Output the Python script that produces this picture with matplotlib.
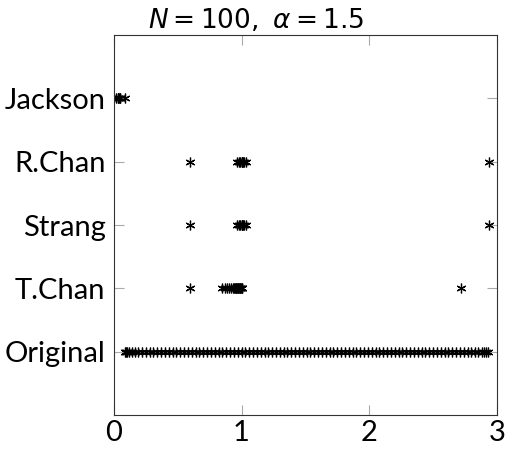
import matplotlib
matplotlib.use("Agg")
import matplotlib.pyplot as plt

categories = ["Original", "T.Chan", "Strang", "R.Chan", "Jackson"]

original = [0.09, 0.095, 0.105, 0.12, 0.14, 0.165, 0.19, 0.22, 0.25,
            0.28, 0.31, 0.34, 0.37, 0.40, 0.43, 0.46, 0.49, 0.52, 0.55,
            0.58, 0.61, 0.64, 0.67, 0.70, 0.73, 0.76, 0.79, 0.82, 0.85,
            0.88, 0.91, 0.94, 0.97, 1.00, 1.03, 1.06, 1.09, 1.12, 1.15,
            1.18, 1.21, 1.24, 1.27, 1.30, 1.33, 1.36, 1.39, 1.42, 1.45,
            1.48, 1.51, 1.54, 1.57, 1.60, 1.63, 1.66, 1.69, 1.72, 1.75,
            1.78, 1.81, 1.84, 1.87, 1.90, 1.93, 1.96, 1.99, 2.02, 2.05,
            2.08, 2.11, 2.14, 2.17, 2.20, 2.23, 2.26, 2.29, 2.32, 2.35,
            2.38, 2.41, 2.44, 2.47, 2.50, 2.53, 2.56, 2.59, 2.62, 2.65,
            2.68, 2.71, 2.74, 2.77, 2.80, 2.83, 2.855, 2.88, 2.90, 2.915, 2.93]
tchan = [0.60, 0.85, 0.87, 0.89, 0.905, 0.92, 0.93, 0.94, 0.95, 0.955,
         0.96, 0.965, 0.97, 0.975, 0.98, 0.985, 0.99, 0.995, 1.00, 1.00, 2.72]
strang = [0.60, 0.965, 0.98, 0.99, 1.00, 1.00, 1.005, 1.01, 1.02, 1.035, 2.935]
rchan = [0.60, 0.965, 0.98, 0.99, 1.00, 1.00, 1.005, 1.01, 1.02, 1.035, 2.935]
jackson = [0.02, 0.03, 0.035, 0.04, 0.045, 0.05, 0.09]
series = [original, tchan, strang, rchan, jackson]

title = r"$N = 100,\ \alpha = 1.5$"
xticks = [0, 1, 2, 3]

plt.rcParams["mathtext.fontset"] = "dejavusans"
plt.rcParams["font.family"] = ["Lato", "DejaVu Sans"]

fig = plt.figure(figsize=(5.06, 4.5), dpi=100)
ax = fig.add_axes([0.225, 0.078, 0.757, 0.844])

for i, vals in enumerate(series):
    ax.plot(vals, [i + 1] * len(vals), linestyle="none", marker=(6, 2, 0),
            markersize=7, markeredgewidth=0.9, color="black",
            markerfacecolor="none", markeredgecolor="black")

ax.set_xlim(0, 3)
ax.set_ylim(0, 6)
ax.set_xticks(xticks)
ax.set_xticklabels([str(t) for t in xticks])
ax.set_yticks(range(1, len(categories) + 1))
ax.set_yticklabels(categories)
ax.tick_params(axis="both", direction="in", length=7, width=0.8, color="#aaaaaa",
               labelsize=21, top=True, right=True, pad=6)
ax.tick_params(axis="x", pad=4)
for s in ax.spines.values():
    s.set_linewidth(0.8)
    s.set_color("#333333")
fig.text(0.505, 0.938, title, fontsize=19, ha="center", va="baseline")

fig.savefig("out.png", dpi=100)
